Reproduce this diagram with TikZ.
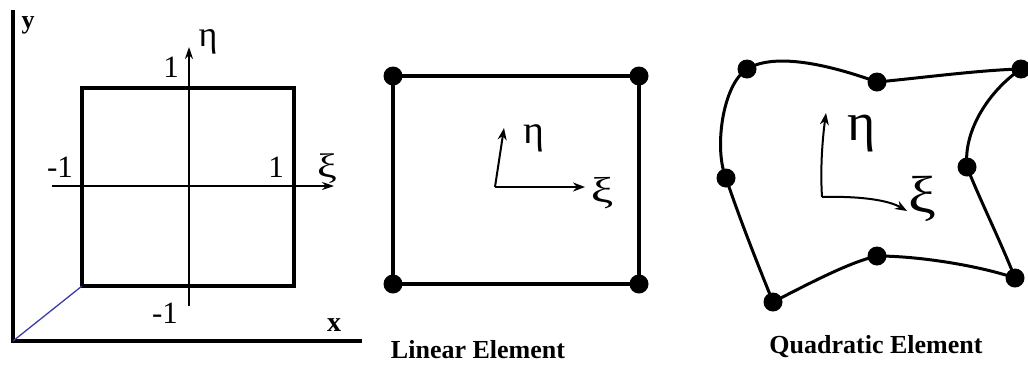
\documentclass[tikz,border=0pt]{standalone}
\usepackage{fontspec}
\setmainfont{Liberation Serif}
\usetikzlibrary{arrows.meta}
\definecolor{axisblue}{RGB}{60,60,170}
\tikzset{
  thickline/.style={line width=3.5pt, line join=miter},
  thinaxis/.style={line width=1.4pt, -{Stealth[length=12pt,width=8pt]}},
  locarrow/.style={line width=2pt, -{Stealth[length=12pt,width=9pt]}},
  curveline/.style={line width=3pt},
  nodedot/.style={circle, fill=black, inner sep=0pt, minimum size=19pt},
  lbl/.style={inner sep=0pt},
  caption/.style={inner sep=0pt, font=\fontsize{26}{30}\selectfont\bfseries}
}
\begin{document}
\begin{tikzpicture}[x=1pt,y=-1pt]
\useasboundingbox (0,0) rectangle (1028,365);
% ---------- Panel 1 ----------
\coordinate (O) at (13,341);
\coordinate (Ytop) at (13,10);
\coordinate (Xend) at (362,341);
\draw[line width=3.5pt] (Ytop) -- (O) -- (Xend);
\node[lbl, font=\fontsize{26}{28}\selectfont\bfseries] (ylab) at (28,25) {y};
\node[lbl, font=\fontsize{28}{30}\selectfont\bfseries] (xlab) at (334,325) {x};
\coordinate (SqBL) at (82,286);
\coordinate (SqTR) at (294,88);
\draw[thickline] (SqBL) rectangle (SqTR);
\draw[line width=1.3pt, axisblue] (O) -- (SqBL);
\coordinate (EtaS) at (189,306);
\coordinate (EtaE) at (189,47);
\coordinate (XiS) at (52,186);
\coordinate (XiE) at (334,186);
\draw[thinaxis] (EtaS) -- (EtaE);
\draw[thinaxis] (XiS) -- (XiE);
\node[lbl, font=\fontsize{36}{38}\selectfont] (eta1) at (208,42) {η};
\node[lbl, font=\fontsize{34}{36}\selectfont] (xi1) at (327,169) {\scalebox{1.3}[1]{ξ}};
\node[lbl, font=\fontsize{31}{33}\selectfont] (one1) at (171,67) {1};
\node[lbl, font=\fontsize{31}{33}\selectfont] (mone1) at (60,167) {-1};
\node[lbl, font=\fontsize{31}{33}\selectfont] (one2) at (276,167) {1};
\node[lbl, font=\fontsize{31}{33}\selectfont] (mone2) at (165,313) {-1};
% ---------- Panel 2 ----------
\node[nodedot] (L1) at (393,76) {};
\node[nodedot] (L2) at (639,76) {};
\node[nodedot] (L3) at (639,284) {};
\node[nodedot] (L4) at (393,284) {};
\draw[thickline] (L1.center) -- (L2.center) -- (L3.center) -- (L4.center) -- cycle;
\coordinate (LO) at (495,187);
\coordinate (LEta) at (504,128);
\coordinate (LXi) at (585,187);
\draw[locarrow] (LO) -- (LEta);
\draw[locarrow] (LO) -- (LXi);
\node[lbl, font=\fontsize{40}{42}\selectfont] (eta2) at (534,138) {η};
\node[lbl, font=\fontsize{36}{38}\selectfont] (xi2) at (602,193) {\scalebox{1.4}[1]{ξ}};
\node[caption] (cap2) at (478,350) {Linear Element};
% ---------- Panel 3 ----------
\node[nodedot] (TL) at (747,69) {};
\node[nodedot] (TM) at (877,82) {};
\node[nodedot] (TR) at (1021,69) {};
\node[nodedot] (RM) at (967,167) {};
\node[nodedot] (BR) at (1015,278) {};
\node[nodedot] (BM) at (877,256) {};
\node[nodedot] (BLq) at (773,302) {};
\node[nodedot] (LM) at (726,178) {};
\draw[curveline] (TL.center) .. controls (722,85) and (714,150) .. (LM.center)
  .. controls (740,220) and (760,270) .. (BLq.center)
  .. controls (810,283) and (850,262) .. (BM.center)
  .. controls (920,256) and (980,266) .. (BR.center)
  .. controls (1000,240) and (980,200) .. (RM.center)
  .. controls (963,130) and (990,90) .. (TR.center)
  .. controls (980,70) and (920,78) .. (TM.center)
  .. controls (830,65) and (775,52) .. (TL.center);
\coordinate (QO) at (822,197);
\coordinate (QEta) at (826,113);
\coordinate (QXi) at (907,211);
\draw[locarrow] (QO) .. controls (820,165) and (823,135) .. (QEta);
\draw[locarrow] (QO) .. controls (860,196) and (888,200) .. (QXi);
\node[lbl, font=\fontsize{54}{56}\selectfont] (eta3) at (862,134) {η};
\node[lbl, font=\fontsize{52}{54}\selectfont] (xi3) at (922,199) {\scalebox{1.2}[1]{ξ}};
\node[caption] (cap3) at (876,347) {Quadratic Element};
\end{tikzpicture}
\end{document}
